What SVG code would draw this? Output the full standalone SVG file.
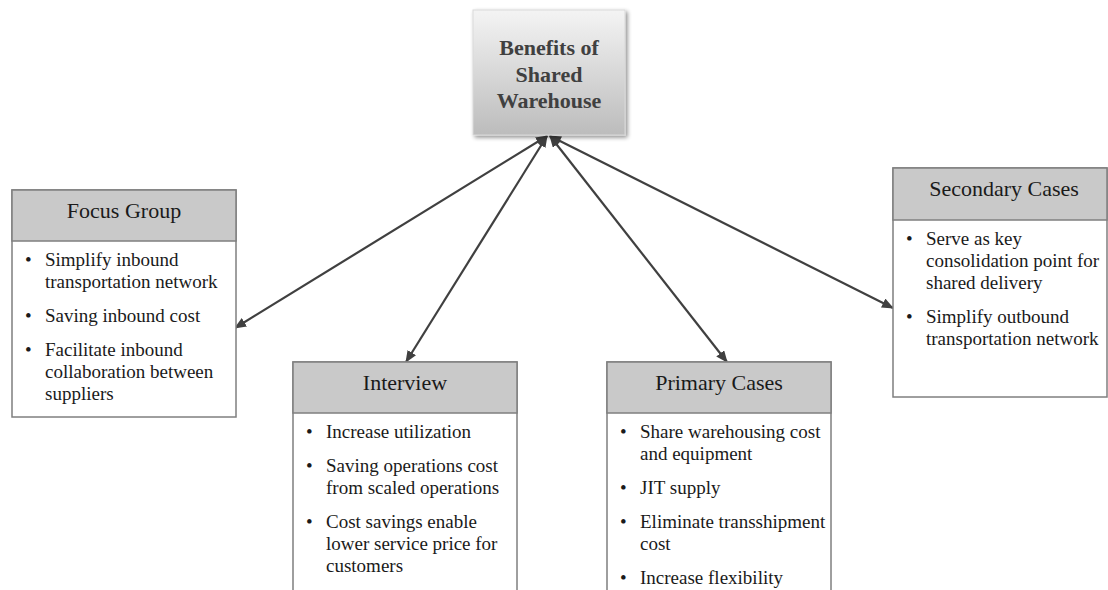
<svg xmlns="http://www.w3.org/2000/svg" width="1108" height="590" viewBox="0 0 1108 590">
  <style>
    .frame { fill: #ffffff; stroke: #7f7f7f; stroke-width: 1.5; }
    .head { fill: #c9c9c9; stroke: #7f7f7f; stroke-width: 1.5; }
    .htxt { font-family: "Liberation Serif", "Times New Roman", serif; font-size: 22px; fill: #1a1a1a; text-anchor: middle; }
    .btxt { font-family: "Liberation Serif", "Times New Roman", serif; font-size: 19px; fill: #1a1a1a; }
    .title { font-family: "Liberation Serif", "Times New Roman", serif; font-size: 22px; font-weight: bold; fill: #404040; text-anchor: middle; }
    .link { stroke: #404040; stroke-width: 2.2; fill: none; marker-start: url(#arrow); marker-end: url(#arrow); }
  </style>
  <defs>
    <linearGradient id="titleFill" x1="0" y1="0" x2="0" y2="1">
      <stop offset="0" stop-color="#f4f4f4"/>
      <stop offset="1" stop-color="#bcbcbc"/>
    </linearGradient>
    <filter id="shadow" x="-10%" y="-10%" width="125%" height="125%">
      <feGaussianBlur in="SourceAlpha" stdDeviation="2"/>
      <feOffset dx="2" dy="2" result="b"/>
      <feComponentTransfer><feFuncA type="linear" slope="0.45"/></feComponentTransfer>
      <feMerge><feMergeNode/><feMergeNode in="SourceGraphic"/></feMerge>
    </filter>
    <marker id="arrow" viewBox="0 0 12 10" refX="11" refY="5" markerWidth="12" markerHeight="10" markerUnits="userSpaceOnUse" orient="auto-start-reverse">
      <path d="M0,0 L12,5 L0,10 z" fill="#404040"/>
    </marker>
  </defs>

  <!-- connectors -->
  <g id="connectors">
    <line class="link" x1="547" y1="136" x2="235" y2="328"/>
    <line class="link" x1="547" y1="136" x2="406" y2="362"/>
    <line class="link" x1="550" y1="136" x2="727" y2="362"/>
    <line class="link" x1="550" y1="136" x2="893" y2="308"/>
  </g>

  <!-- central topic -->
  <g id="benefits">
    <rect x="473" y="10" width="152" height="125" fill="url(#titleFill)" stroke="#d9d9d9" stroke-width="1" filter="url(#shadow)"/>
    <text class="title" x="549" y="55">Benefits of</text>
    <text class="title" x="549" y="82">Shared</text>
    <text class="title" x="549" y="108">Warehouse</text>
  </g>

  <!-- Focus Group -->
  <g id="focus-group">
    <rect class="frame" x="12" y="190" width="224" height="227"/>
    <rect class="head" x="12" y="190" width="224" height="51"/>
    <text class="htxt" x="124" y="218">Focus Group</text>
    <g class="btxt">
      <text x="25" y="266">•</text><text x="45" y="266">Simplify inbound</text>
      <text x="45" y="288">transportation network</text>
      <text x="25" y="322">•</text><text x="45" y="322">Saving inbound cost</text>
      <text x="25" y="356">•</text><text x="45" y="356">Facilitate inbound</text>
      <text x="45" y="378">collaboration between</text>
      <text x="45" y="400">suppliers</text>
    </g>
  </g>

  <!-- Interview -->
  <g id="interview">
    <rect class="frame" x="293" y="362" width="224" height="240"/>
    <rect class="head" x="293" y="362" width="224" height="51"/>
    <text class="htxt" x="405" y="390">Interview</text>
    <g class="btxt">
      <text x="306" y="438">•</text><text x="326" y="438">Increase utilization</text>
      <text x="306" y="472">•</text><text x="326" y="472">Saving operations cost</text>
      <text x="326" y="494">from scaled operations</text>
      <text x="306" y="528">•</text><text x="326" y="528">Cost savings enable</text>
      <text x="326" y="550">lower service price for</text>
      <text x="326" y="572">customers</text>
    </g>
  </g>

  <!-- Primary Cases -->
  <g id="primary-cases">
    <rect class="frame" x="607" y="362" width="224" height="240"/>
    <rect class="head" x="607" y="362" width="224" height="51"/>
    <text class="htxt" x="719" y="390">Primary Cases</text>
    <g class="btxt">
      <text x="620" y="438">•</text><text x="640" y="438">Share warehousing cost</text>
      <text x="640" y="460">and equipment</text>
      <text x="620" y="494">•</text><text x="640" y="494">JIT supply</text>
      <text x="620" y="528">•</text><text x="640" y="528">Eliminate transshipment</text>
      <text x="640" y="550">cost</text>
      <text x="620" y="584">•</text><text x="640" y="584">Increase flexibility</text>
    </g>
  </g>

  <!-- Secondary Cases -->
  <g id="secondary-cases">
    <rect class="frame" x="893" y="168" width="214" height="229"/>
    <rect class="head" x="893" y="168" width="214" height="52"/>
    <text class="htxt" x="1004" y="196">Secondary Cases</text>
    <g class="btxt">
      <text x="906" y="245">•</text><text x="926" y="245">Serve as key</text>
      <text x="926" y="267">consolidation point for</text>
      <text x="926" y="289">shared delivery</text>
      <text x="906" y="323">•</text><text x="926" y="323">Simplify outbound</text>
      <text x="926" y="345">transportation network</text>
    </g>
  </g>
</svg>
